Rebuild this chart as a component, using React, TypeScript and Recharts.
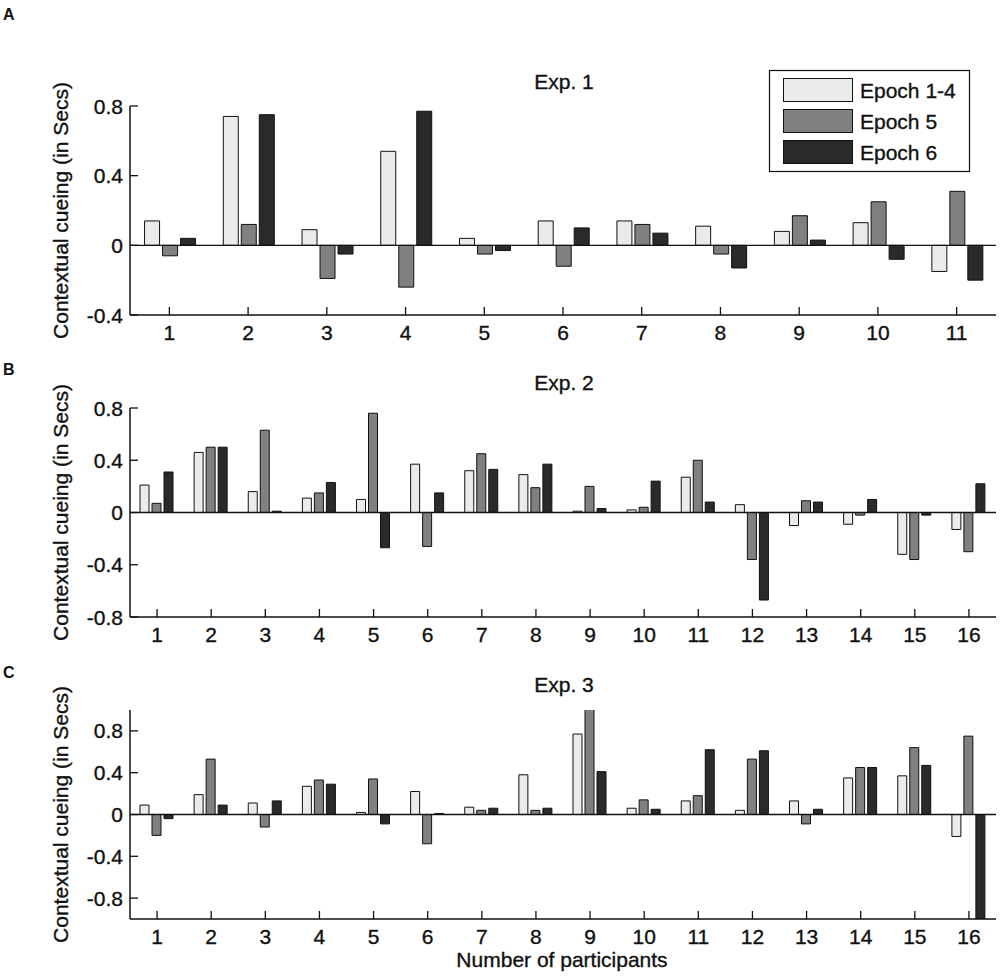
import React from "react";
import { BarChart, Bar, XAxis, YAxis, ReferenceLine } from "recharts";

// participant labels
const exp1Participants = ["1", "2", "3", "4", "5", "6", "7", "8", "9", "10", "11"];
const exp23Participants = ["1", "2", "3", "4", "5", "6", "7", "8", "9", "10", "11", "12", "13", "14", "15", "16"];

// Exp. 1
const exp1Epoch14 = [0.14, 0.74, 0.09, 0.54, 0.04, 0.14, 0.14, 0.11, 0.08, 0.13, -0.15];
const exp1Epoch5 = [-0.06, 0.12, -0.19, -0.24, -0.05, -0.12, 0.12, -0.05, 0.17, 0.25, 0.31];
const exp1Epoch6 = [0.04, 0.75, -0.05, 0.77, -0.03, 0.1, 0.07, -0.13, 0.03, -0.08, -0.2];

// Exp. 2
const exp2Epoch14 = [0.21, 0.46, 0.16, 0.11, 0.1, 0.37, 0.32, 0.29, 0.01, 0.02, 0.27, 0.06, -0.1, -0.09, -0.32, -0.13];
const exp2Epoch5 = [0.07, 0.5, 0.63, 0.15, 0.76, -0.26, 0.45, 0.19, 0.2, 0.04, 0.4, -0.36, 0.09, -0.02, -0.36, -0.3];
const exp2Epoch6 = [0.31, 0.5, 0.01, 0.23, -0.27, 0.15, 0.33, 0.37, 0.03, 0.24, 0.08, -0.67, 0.08, 0.1, -0.02, 0.22];

// Exp. 3 (two bars run past the axis limits and are clipped)
const exp3Epoch14 = [0.09, 0.19, 0.11, 0.27, 0.02, 0.22, 0.07, 0.38, 0.77, 0.06, 0.13, 0.04, 0.13, 0.35, 0.37, -0.21];
const exp3Epoch5 = [-0.2, 0.53, -0.12, 0.33, 0.34, -0.28, 0.04, 0.04, 1.05, 0.14, 0.18, 0.53, -0.09, 0.45, 0.64, 0.75];
const exp3Epoch6 = [-0.04, 0.09, 0.13, 0.29, -0.09, 0.01, 0.06, 0.06, 0.41, 0.05, 0.62, 0.61, 0.05, 0.45, 0.47, -1.1];

// y ticks
const exp1Ticks = [-0.4, 0, 0.4, 0.8];
const exp2Ticks = [-0.8, -0.4, 0, 0.4, 0.8];
const exp3Ticks = [-0.8, -0.4, 0, 0.4, 0.8];

const seriesNames = ["Epoch 1-4", "Epoch 5", "Epoch 6"];
const seriesColors = ["#ebebeb", "#808080", "#2a2a2a"];

const FONT = '"Liberation Sans", Arial, Helvetica, sans-serif';
const INK = "#111";
// the scanned figure has slightly heavier type than a plain regular face
const textWeight = { stroke: INK, strokeWidth: 0.35 };

const toRows = (labels: string[], a: number[], b: number[], c: number[]) =>
  labels.map((p, i) => ({ p, e14: a[i], e5: b[i], e6: c[i] }));

const YTick = (props: any) => {
  const { x, y, payload } = props;
  return (
    <g>
      <line x1={x + 7} x2={x + 15} y1={y} y2={y} stroke={INK} strokeWidth={1.3} />
      <text x={x} y={y} dy="0.36em" textAnchor="end" fontSize={21} fontFamily={FONT} fill={INK} {...textWeight}>
        {payload.value}
      </text>
    </g>
  );
};

const XTick = (props: any) => {
  const { x, y, payload } = props;
  return (
    <g>
      <line x1={x} x2={x} y1={y - 10} y2={y - 18} stroke={INK} strokeWidth={1.3} />
      <text x={x} y={y} dy="0.71em" textAnchor="middle" fontSize={21} fontFamily={FONT} fill={INK} {...textWeight}>
        {payload.value}
      </text>
    </g>
  );
};

const yLabel = (props: any) => {
  const { viewBox } = props;
  const cx = viewBox.x - 10;
  const cy = viewBox.y + viewBox.height / 2;
  return (
    <text
      x={cx}
      y={cy}
      transform={`rotate(-90, ${cx}, ${cy})`}
      textAnchor="middle"
      dominantBaseline="central"
      fontSize={21}
      fontFamily={FONT}
      fill={INK}
      {...textWeight}
    >
      Contextual cueing (in Secs)
    </text>
  );
};

type PanelProps = {
  rows: any[];
  domain: [number, number];
  ticks: number[];
  top: number;
  height: number;
  margin: { top: number; right: number; bottom: number; left: number };
  xHeight: number;
};

function Panel({ rows, domain, ticks, top, height, margin, xHeight }: PanelProps) {
  return (
    <div style={{ position: "absolute", left: 0, top }}>
      <BarChart width={1000} height={height} data={rows} margin={margin} barCategoryGap="18.5%" barGap={3}>
        <XAxis
          dataKey="p"
          height={xHeight}
          tickLine={false}
          tickSize={0}
          tickMargin={10}
          tick={<XTick />}
          axisLine={{ stroke: INK, strokeWidth: 1.5 }}
          interval={0}
        />
        <YAxis
          width={60}
          domain={domain}
          ticks={ticks}
          allowDataOverflow
          tickLine={false}
          tickSize={0}
          tickMargin={7}
          tick={<YTick />}
          axisLine={{ stroke: INK, strokeWidth: 1.5 }}
          label={{ content: yLabel }}
        />
        <ReferenceLine y={0} stroke={INK} strokeWidth={1.3} />
        <Bar dataKey="e14" fill={seriesColors[0]} stroke={INK} strokeWidth={1} isAnimationActive={false} />
        <Bar dataKey="e5" fill={seriesColors[1]} stroke={INK} strokeWidth={1} isAnimationActive={false} />
        <Bar dataKey="e6" fill={seriesColors[2]} stroke={INK} strokeWidth={1} isAnimationActive={false} />
      </BarChart>
    </div>
  );
}

export default function App() {
  const rows1 = toRows(exp1Participants, exp1Epoch14, exp1Epoch5, exp1Epoch6);
  const rows2 = toRows(exp23Participants, exp2Epoch14, exp2Epoch5, exp2Epoch6);
  const rows3 = toRows(exp23Participants, exp3Epoch14, exp3Epoch5, exp3Epoch6);

  return (
    <div style={{ position: "relative", width: 1000, height: 980, background: "#fff", fontFamily: FONT }}>
      <style>{`body { margin: 0; }`}</style>
      <Panel
        rows={rows1}
        domain={[-0.4, 0.8]}
        ticks={exp1Ticks}
        top={0}
        height={345}
        margin={{ top: 106, right: 4, bottom: 0, left: 70 }}
        xHeight={30}
      />
      <Panel
        rows={rows2}
        domain={[-0.8, 0.8]}
        ticks={exp2Ticks}
        top={345}
        height={300}
        margin={{ top: 63, right: 4, bottom: 0, left: 70 }}
        xHeight={28}
      />
      <Panel
        rows={rows3}
        domain={[-1, 1]}
        ticks={exp3Ticks}
        top={645}
        height={335}
        margin={{ top: 65, right: 4, bottom: 31, left: 70 }}
        xHeight={30}
      />

      {/* titles, panel letters, legend, x label */}
      <svg width={1000} height={980} style={{ position: "absolute", left: 0, top: 0, pointerEvents: "none" }}>
        <g fontFamily={FONT} fill={INK}>
          <text x={3} y={20} fontSize={16} fontWeight="bold">A</text>
          <text x={3} y={375} fontSize={16} fontWeight="bold">B</text>
          <text x={3} y={678} fontSize={16} fontWeight="bold">C</text>
          <g {...textWeight}>
            <text x={564} y={89} fontSize={21} textAnchor="middle">Exp. 1</text>
            <text x={564} y={390} fontSize={21} textAnchor="middle">Exp. 2</text>
            <text x={564} y={692} fontSize={21} textAnchor="middle">Exp. 3</text>
            <text x={562} y={967} fontSize={21} textAnchor="middle">Number of participants</text>
          </g>
        </g>
        <rect x={769.5} y={70.5} width={200} height={101} fill="#fff" stroke={INK} strokeWidth={1.2} />
        {seriesNames.map((name, i) => (
          <g key={name}>
            <rect
              x={783.5}
              y={78.5 + i * 31}
              width={69}
              height={23}
              fill={seriesColors[i]}
              stroke={INK}
              strokeWidth={1}
            />
            <text x={860} y={97.5 + i * 31} fontSize={21} fontFamily={FONT} fill={INK} {...textWeight}>
              {name}
            </text>
          </g>
        ))}
      </svg>
    </div>
  );
}
